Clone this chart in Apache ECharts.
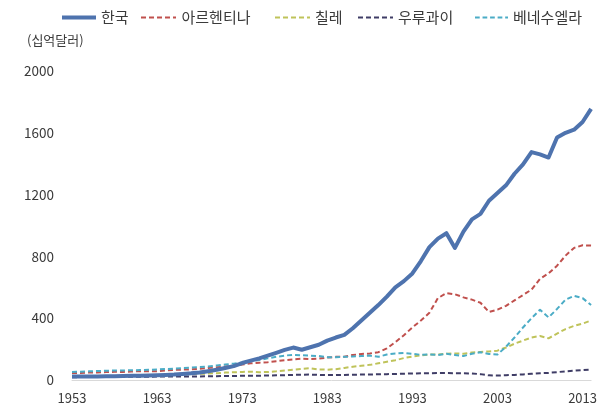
<!DOCTYPE html>
<html>
<head>
<meta charset="utf-8">
<script src="https://cdn.jsdelivr.net/npm/echarts@6/dist/echarts.min.js"></script>
<style>
  html, body { margin: 0; padding: 0; background: #fff; }
  #chart { width: 600px; height: 409px; }
</style>
</head>
<body>
<div id="chart"></div>
<script>
const YEARS = [];
for (let y = 1953; y <= 2014; y++) YEARS.push(String(y));

const KOREA = [
  22, 22, 23, 23, 24, 25, 26, 27, 28, 29,
  31, 33, 35, 39, 43, 49, 57, 66, 78, 90,
  110, 125, 140, 158, 176, 195, 210, 196, 212, 228,
  255, 275, 292, 335, 385, 435, 485, 540, 600, 640,
  690, 770, 860, 915, 950, 855, 960, 1040, 1075, 1160,
  1210, 1260, 1335, 1395, 1475, 1460, 1440, 1570, 1600, 1620,
  1670, 1755
];
const ARGENTINA = [
  45, 46, 48, 49, 51, 53, 52, 55, 57, 57,
  57, 61, 66, 67, 69, 72, 78, 82, 87, 92,
  100, 108, 112, 115, 122, 128, 133, 138, 136, 138,
  145, 150, 150, 162, 168, 172, 180, 205, 245, 290,
  340, 385, 435, 530, 562, 555, 535, 520, 500, 440,
  455, 480, 515, 550, 585, 655, 690, 740, 805, 855,
  872, 870
];
const CHILE = [
  22, 22, 23, 24, 25, 25, 26, 28, 29, 30,
  32, 33, 34, 37, 38, 40, 42, 44, 48, 50,
  52, 54, 50, 52, 56, 62, 67, 72, 76, 68,
  67, 70, 78, 86, 92, 98, 108, 118, 128, 142,
  152, 160, 165, 165, 170, 172, 170, 178, 182, 185,
  190, 210, 235, 255, 275, 285, 270, 300, 330, 350,
  365, 385
];
const URUGUAY = [
  18, 19, 19, 20, 20, 20, 20, 21, 21, 21,
  22, 22, 22, 23, 23, 23, 24, 25, 26, 26,
  27, 27, 28, 29, 30, 31, 33, 34, 35, 33,
  32, 32, 33, 34, 35, 36, 37, 38, 39, 41,
  42, 43, 44, 45, 45, 44, 43, 42, 38, 30,
  29, 31, 33, 36, 40, 44, 46, 51, 56, 60,
  64, 68
];
const VENEZUELA = [
  52, 54, 56, 58, 60, 61, 62, 63, 64, 66,
  68, 71, 74, 77, 80, 84, 88, 94, 100, 106,
  113, 122, 130, 140, 150, 158, 163, 160, 158, 155,
  148, 148, 150, 152, 155, 158, 150, 165, 172, 175,
  170, 163, 166, 162, 170, 162, 155, 170, 180, 168,
  165, 215, 275, 340, 400, 455, 405, 460, 520, 545,
  530, 485
];

const FONT = "'Noto Sans CJK KR', 'Noto Sans', sans-serif";
const TEXT_COLOR = "#3a3a3a";

// legend swatches: a plain bar for the solid line, four dashes and a dot for the rest
const SOLID_ICON = "path://M0,0h35v4h-35z";
const DASH_ICON = "path://M0,0h5v2h-5z M8,0h5v2h-5z M16,0h5v2h-5z M24,0h5v2h-5z M32,0h3v2h-3z";

const SERIES = [
  { name: "한국", data: KOREA, color: "#4e73ae", solid: true, legendLeft: 62, iconWidth: 34 },
  { name: "아르헨티나", data: ARGENTINA, color: "#c0504d", legendLeft: 141, iconWidth: 36 },
  { name: "칠레", data: CHILE, color: "#bfc35a", legendLeft: 275, iconWidth: 35 },
  { name: "우루과이", data: URUGUAY, color: "#3f3d66", legendLeft: 358, iconWidth: 35 },
  { name: "베네수엘라", data: VENEZUELA, color: "#4bacc6", legendLeft: 475, iconWidth: 33 }
];

const chart = echarts.init(document.getElementById("chart"));

chart.setOption({
  animation: false,
  backgroundColor: "#fff",
  textStyle: { fontFamily: FONT },
  legend: SERIES.map((s) => ({
    data: [{ name: s.name, icon: s.solid ? SOLID_ICON : DASH_ICON }],
    left: s.legendLeft,
    top: 10,
    itemWidth: s.iconWidth,
    itemHeight: s.solid ? 4 : 2,
    padding: 0,
    itemStyle: { color: s.color, borderWidth: 0 },
    textStyle: { fontFamily: FONT, fontSize: 15, color: TEXT_COLOR }
  })),
  graphic: [
    {
      type: "text",
      left: 27,
      top: 34,
      style: { text: "(십억달러)", font: `13px ${FONT}`, fill: TEXT_COLOR }
    }
  ],
  grid: { left: 72, right: 8, top: 71, bottom: 29 },
  xAxis: {
    type: "category",
    data: YEARS,
    boundaryGap: false,
    axisLine: { lineStyle: { color: "#d9d9d9", width: 1 } },
    axisTick: { show: false },
    axisLabel: {
      interval: 9,
      margin: 12,
      fontSize: 13,
      color: TEXT_COLOR,
      fontFamily: FONT
    },
    splitLine: { show: false }
  },
  yAxis: {
    type: "value",
    min: 0,
    max: 2000,
    interval: 400,
    axisLine: { show: false },
    axisTick: { show: false },
    splitLine: { show: false },
    axisLabel: {
      margin: 18,
      fontSize: 13.5,
      color: TEXT_COLOR,
      fontFamily: FONT,
      formatter: (value) => String(value)
    }
  },
  series: SERIES.map((s) => ({
    name: s.name,
    type: "line",
    data: s.data,
    symbol: "none",
    smooth: false,
    silent: true,
    z: s.solid ? 3 : 2,
    lineStyle: {
      color: s.color,
      width: s.solid ? 4 : 2,
      type: s.solid ? "solid" : [5, 3],
      cap: "butt",
      join: "round"
    },
    itemStyle: { color: s.color }
  }))
});
</script>
</body>
</html>
